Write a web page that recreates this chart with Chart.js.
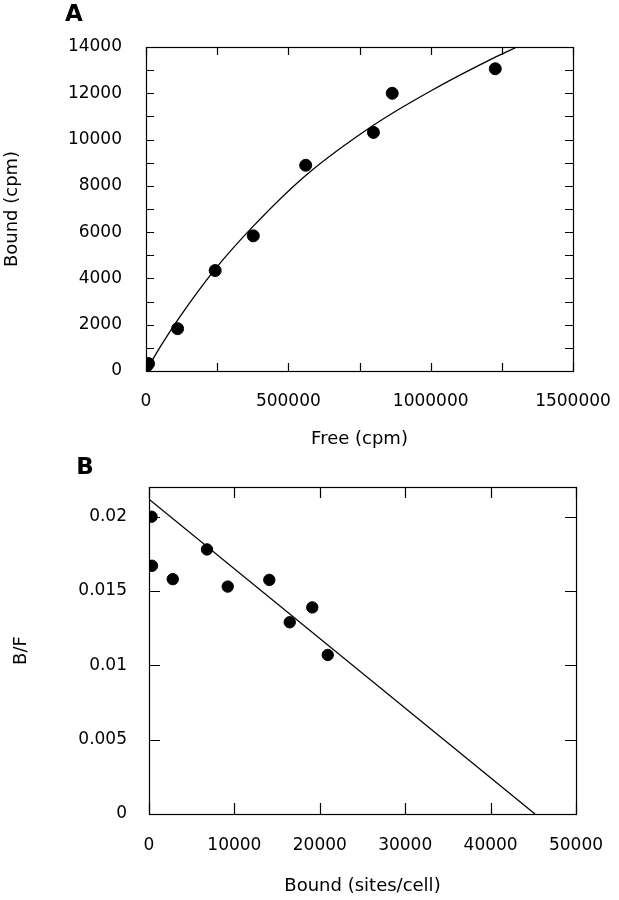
<!DOCTYPE html>
<html>
<head>
<meta charset="utf-8">
<script src="https://cdn.jsdelivr.net/npm/chart.js@4"></script>
<style>
  body { margin: 0; background: #fff; }
  #wrap { position: relative; width: 619px; height: 900px; }
  canvas { position: absolute; left: 0; }
  #grafA { top: 0; }
  #grafB { top: 450px; }
</style>
</head>
<body>
<div id="wrap">
  <canvas id="grafA" width="619" height="450"></canvas>
  <canvas id="grafB" width="619" height="450"></canvas>
</div>
<script>
// Panell A: saturacio
const freeA = [3000, 9000, 111000, 243000, 377000, 561000, 799000, 865000, 1227000];
const boundA = [220, 320, 1830, 4340, 5840, 8890, 10310, 12000, 13060];
// corba ajustada llegida de la figura
const fitFreeA = [0, 50000, 111000, 243000, 377000, 561000, 799000, 1000000, 1227000, 1303000];
const fitBoundA = [0, 1040, 2200, 4400, 6260, 8450, 10620, 12100, 13560, 14000];
const xTicksA = [0, 250000, 500000, 750000, 1000000, 1250000, 1500000];
const yTicksA = [0, 1000, 2000, 3000, 4000, 5000, 6000, 7000, 8000, 9000, 10000, 11000, 12000, 13000, 14000];

// Panell B: Scatchard
const boundB = [300, 350, 2780, 6790, 9220, 14090, 16480, 19120, 20930];
const ratioB = [0.0200, 0.0167, 0.0158, 0.0178, 0.0153, 0.01575, 0.0129, 0.0139, 0.0107];
const fitBoundB = [0, 45200];
const fitRatioB = [0.02118, 0];
const xTicksB = [0, 10000, 20000, 30000, 40000, 50000];
const yTicksB = [0, 0.005, 0.01, 0.015, 0.02];

const ink = '#000';
const fontFam = "'DejaVu Sans', sans-serif";

function pts(xs, ys) {
    return xs.map((x, i) => ({ x: x, y: ys[i] }));
}

// marc i marques cap endins
function framePlugin(letter, lx, ly, tickLen) {
    return {
        id: 'frame' + letter,
        afterDraw(chart) {
            const ctx = chart.ctx;
            const a = chart.chartArea;
            const xs = chart.scales.x, ys = chart.scales.y;
            ctx.save();
            ctx.strokeStyle = ink;
            ctx.lineWidth = 1.2;
            ctx.strokeRect(Math.round(a.left) + 0.5, Math.round(a.top) + 0.5,
                Math.round(a.right - a.left), Math.round(a.bottom - a.top));
            ctx.beginPath();
            xs.ticks.forEach(t => {
                const p = Math.round(xs.getPixelForValue(t.value)) + 0.5;
                ctx.moveTo(p, a.bottom); ctx.lineTo(p, a.bottom - tickLen);
                ctx.moveTo(p, a.top); ctx.lineTo(p, a.top + tickLen);
            });
            ys.ticks.forEach(t => {
                const p = Math.round(ys.getPixelForValue(t.value)) + 0.5;
                ctx.moveTo(a.left, p); ctx.lineTo(a.left + tickLen, p);
                ctx.moveTo(a.right, p); ctx.lineTo(a.right - tickLen, p);
            });
            ctx.stroke();
            ctx.fillStyle = ink;
            ctx.font = "bold 23px " + fontFam;
            ctx.textAlign = 'center';
            ctx.textBaseline = 'middle';
            ctx.fillText(letter, lx, ly);
            ctx.restore();
        }
    };
}

function makeScale(min, max, tickList, title, opts) {
    return {
        type: 'linear',
        min: min,
        max: max,
        grid: { display: false, drawTicks: false },
        border: { display: false },
        afterBuildTicks: s => { s.ticks = tickList.map(v => ({ value: v })); },
        afterFit: s => {
            opts.fit(s);
            s.paddingLeft = 0; s.paddingRight = 0;
            s.paddingTop = 0; s.paddingBottom = 0;
        },
        ticks: {
            color: ink,
            padding: opts.pad,
            autoSkip: false,
            maxRotation: 0,
            font: { family: fontFam, size: 17 },
            callback: opts.label
        },
        title: {
            display: true,
            text: title,
            color: ink,
            padding: opts.titlePad,
            font: { family: fontFam, size: 18 }
        }
    };
}

new Chart(document.getElementById('grafA'), {
    type: 'scatter',
    data: {
        datasets: [{
            data: pts(fitFreeA, fitBoundA),
            showLine: true,
            cubicInterpolationMode: 'monotone',
            borderColor: ink,
            borderWidth: 1.3,
            pointRadius: 0
        }, {
            data: pts(freeA, boundA),
            backgroundColor: ink,
            borderColor: ink,
            pointRadius: 6,
            showLine: false
        }]
    },
    options: {
        responsive: false,
        animation: false,
        devicePixelRatio: 1,
        layout: { padding: { left: 0, top: 47, right: 46, bottom: 0 } },
        plugins: { legend: { display: false }, tooltip: { enabled: false } },
        scales: {
            x: makeScale(0, 1500000, xTicksA, 'Free (cpm)', {
                fit: s => { s.height = 79; },
                pad: 20,
                titlePad: { top: 0, bottom: 0 },
                label: v => (v % 500000 === 0 ? String(v) : '')
            }),
            y: makeScale(0, 14000, yTicksA, 'Bound (cpm)', {
                fit: s => { s.width = 146; },
                pad: 24,
                titlePad: { top: 2, bottom: 0 },
                label: v => (v % 2000 === 0 ? String(v) : '')
            })
        }
    },
    plugins: [framePlugin('A', 74, 15, 8)]
});

new Chart(document.getElementById('grafB'), {
    type: 'scatter',
    data: {
        datasets: [{
            data: pts(fitBoundB, fitRatioB),
            showLine: true,
            borderColor: ink,
            borderWidth: 1.3,
            pointRadius: 0
        }, {
            data: pts(boundB, ratioB),
            backgroundColor: ink,
            borderColor: ink,
            pointRadius: 5.7,
            showLine: false
        }]
    },
    options: {
        responsive: false,
        animation: false,
        devicePixelRatio: 1,
        layout: { padding: { left: 0, top: 37, right: 43, bottom: 0 } },
        plugins: { legend: { display: false }, tooltip: { enabled: false } },
        scales: {
            x: makeScale(0, 50000, xTicksB, 'Bound (sites/cell)', {
                fit: s => { s.height = 86; },
                pad: 21,
                titlePad: { top: 0, bottom: 3 },
                label: v => String(v)
            }),
            y: makeScale(0, 0.022, yTicksB, 'B/F', {
                fit: s => { s.width = 149; },
                pad: 22,
                titlePad: { top: 11, bottom: 0 },
                label: v => String(v)
            })
        }
    },
    plugins: [framePlugin('B', 85, 18, 11)]
});
</script>
</body>
</html>
